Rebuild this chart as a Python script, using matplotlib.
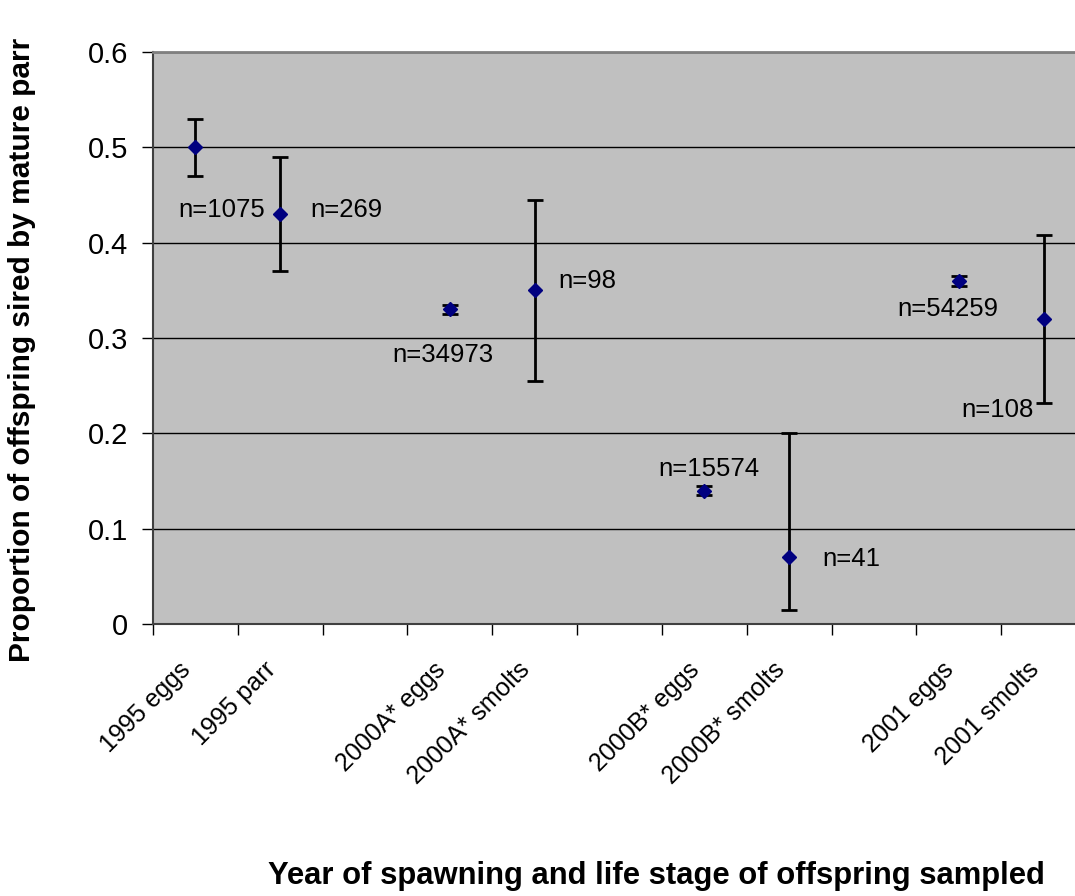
#!/usr/bin/env python3
"""
Proportion of offspring sired by mature parr, per year and life stage
"""

import matplotlib
matplotlib.use('Agg')
import matplotlib.pyplot as plt
import matplotlib.transforms as mtransforms
from matplotlib.ticker import MultipleLocator

# category slots; empty strings are the spacer slots between years
categories = ['1995 eggs', '1995 parr', '',
              '2000A* eggs', '2000A* smolts', '',
              '2000B* eggs', '2000B* smolts', '',
              '2001 eggs', '2001 smolts']
proportion = [0.50, 0.43, None, 0.33, 0.35, None, 0.14, 0.07, None, 0.36, 0.32]
err_low = [0.03, 0.06, None, 0.005, 0.095, None, 0.005, 0.055, None, 0.005, 0.088]
err_high = [0.03, 0.06, None, 0.005, 0.095, None, 0.005, 0.13, None, 0.005, 0.088]
n_labels = ['n=1075', 'n=269', None, 'n=34973', 'n=98', None,
            'n=15574', 'n=41', None, 'n=54259', 'n=108']

# label offsets from each point, in pixels
label_offsets = [(26, -63), (66, 4), None, (-7, -46), (53, 9), None,
                 (5, 22), (62, -2), None, (-11, -28), (-46, -91)]

W, H = 1075, 896
plt.rcParams['font.family'] = ['Liberation Sans', 'DejaVu Sans']

fig = plt.figure(figsize=(W / 100, H / 100), dpi=100)
left, right, top, bottom = 153, 1086, 52, 624
ax = fig.add_axes([left / W, 1 - bottom / H, (right - left) / W, (bottom - top) / H])

ax.set_facecolor('#C0C0C0')
ax.set_xlim(0, len(categories))
ax.set_ylim(0, 0.6)
ax.yaxis.set_major_locator(MultipleLocator(0.1))
ax.set_yticks(ax.get_yticks())
ax.set_yticklabels([f'{v:g}' for v in ax.get_yticks()])
ax.set_ylim(0, 0.6)
ax.grid(axis='y', color='black', linewidth=1)
ax.set_axisbelow(True)

# data points sit in the middle of each slot
idx = [i for i, v in enumerate(proportion) if v is not None]
xs = [i + 0.5 for i in idx]
ys = [proportion[i] for i in idx]
yerr = [[err_low[i] for i in idx], [err_high[i] for i in idx]]

ax.errorbar(xs, ys, yerr=yerr, fmt='none', ecolor='black', elinewidth=2,
            capsize=6, capthick=2, zorder=3)
ax.plot(xs, ys, linestyle='none', marker='D', markersize=7.6,
        color='#000080', zorder=4)

for i in idx:
    dx, dy = label_offsets[i]
    ax.annotate(n_labels[i], (i + 0.5, proportion[i]), xytext=(dx, dy),
                textcoords='offset pixels', ha='center', va='center',
                fontsize=18.5)

# tick marks on slot boundaries, labels on slot centres
ax.set_xticks(range(len(categories) + 1))
ax.set_xticklabels([])
ax.set_xticks([i + 0.5 for i in range(len(categories))], minor=True)
ax.set_xticklabels(categories, minor=True, rotation=45, ha='right',
                   rotation_mode='anchor', fontsize=18)
ax.tick_params(axis='x', which='minor', length=0, pad=24)
ax.tick_params(axis='x', which='major', length=8, width=1, color='black')
ax.tick_params(axis='y', length=8, width=1, color='black', labelsize=21, pad=10)

shift = mtransforms.ScaledTranslation(-17 / 100, 0, fig.dpi_scale_trans)
for lbl in ax.get_xticklabels(minor=True):
    lbl.set_transform(lbl.get_transform() + shift)

for side in ['top', 'right']:
    ax.spines[side].set_color('#808080')
    ax.spines[side].set_linewidth(2)
for side in ['left', 'bottom']:
    ax.spines[side].set_color('#404040')
    ax.spines[side].set_linewidth(1.5)

fig.text(656 / W, 1 - 876 / H, 'Year of spawning and life stage of offspring sampled',
         ha='center', va='center', fontsize=22.3, fontweight='bold')
fig.text(22 / W, 1 - 350 / H, 'Proportion of offspring sired by mature parr',
         ha='center', va='center', rotation=90, fontsize=21.5, fontweight='bold')

fig.savefig('out.png', dpi=100, facecolor='white')
print("Saved: out.png")
